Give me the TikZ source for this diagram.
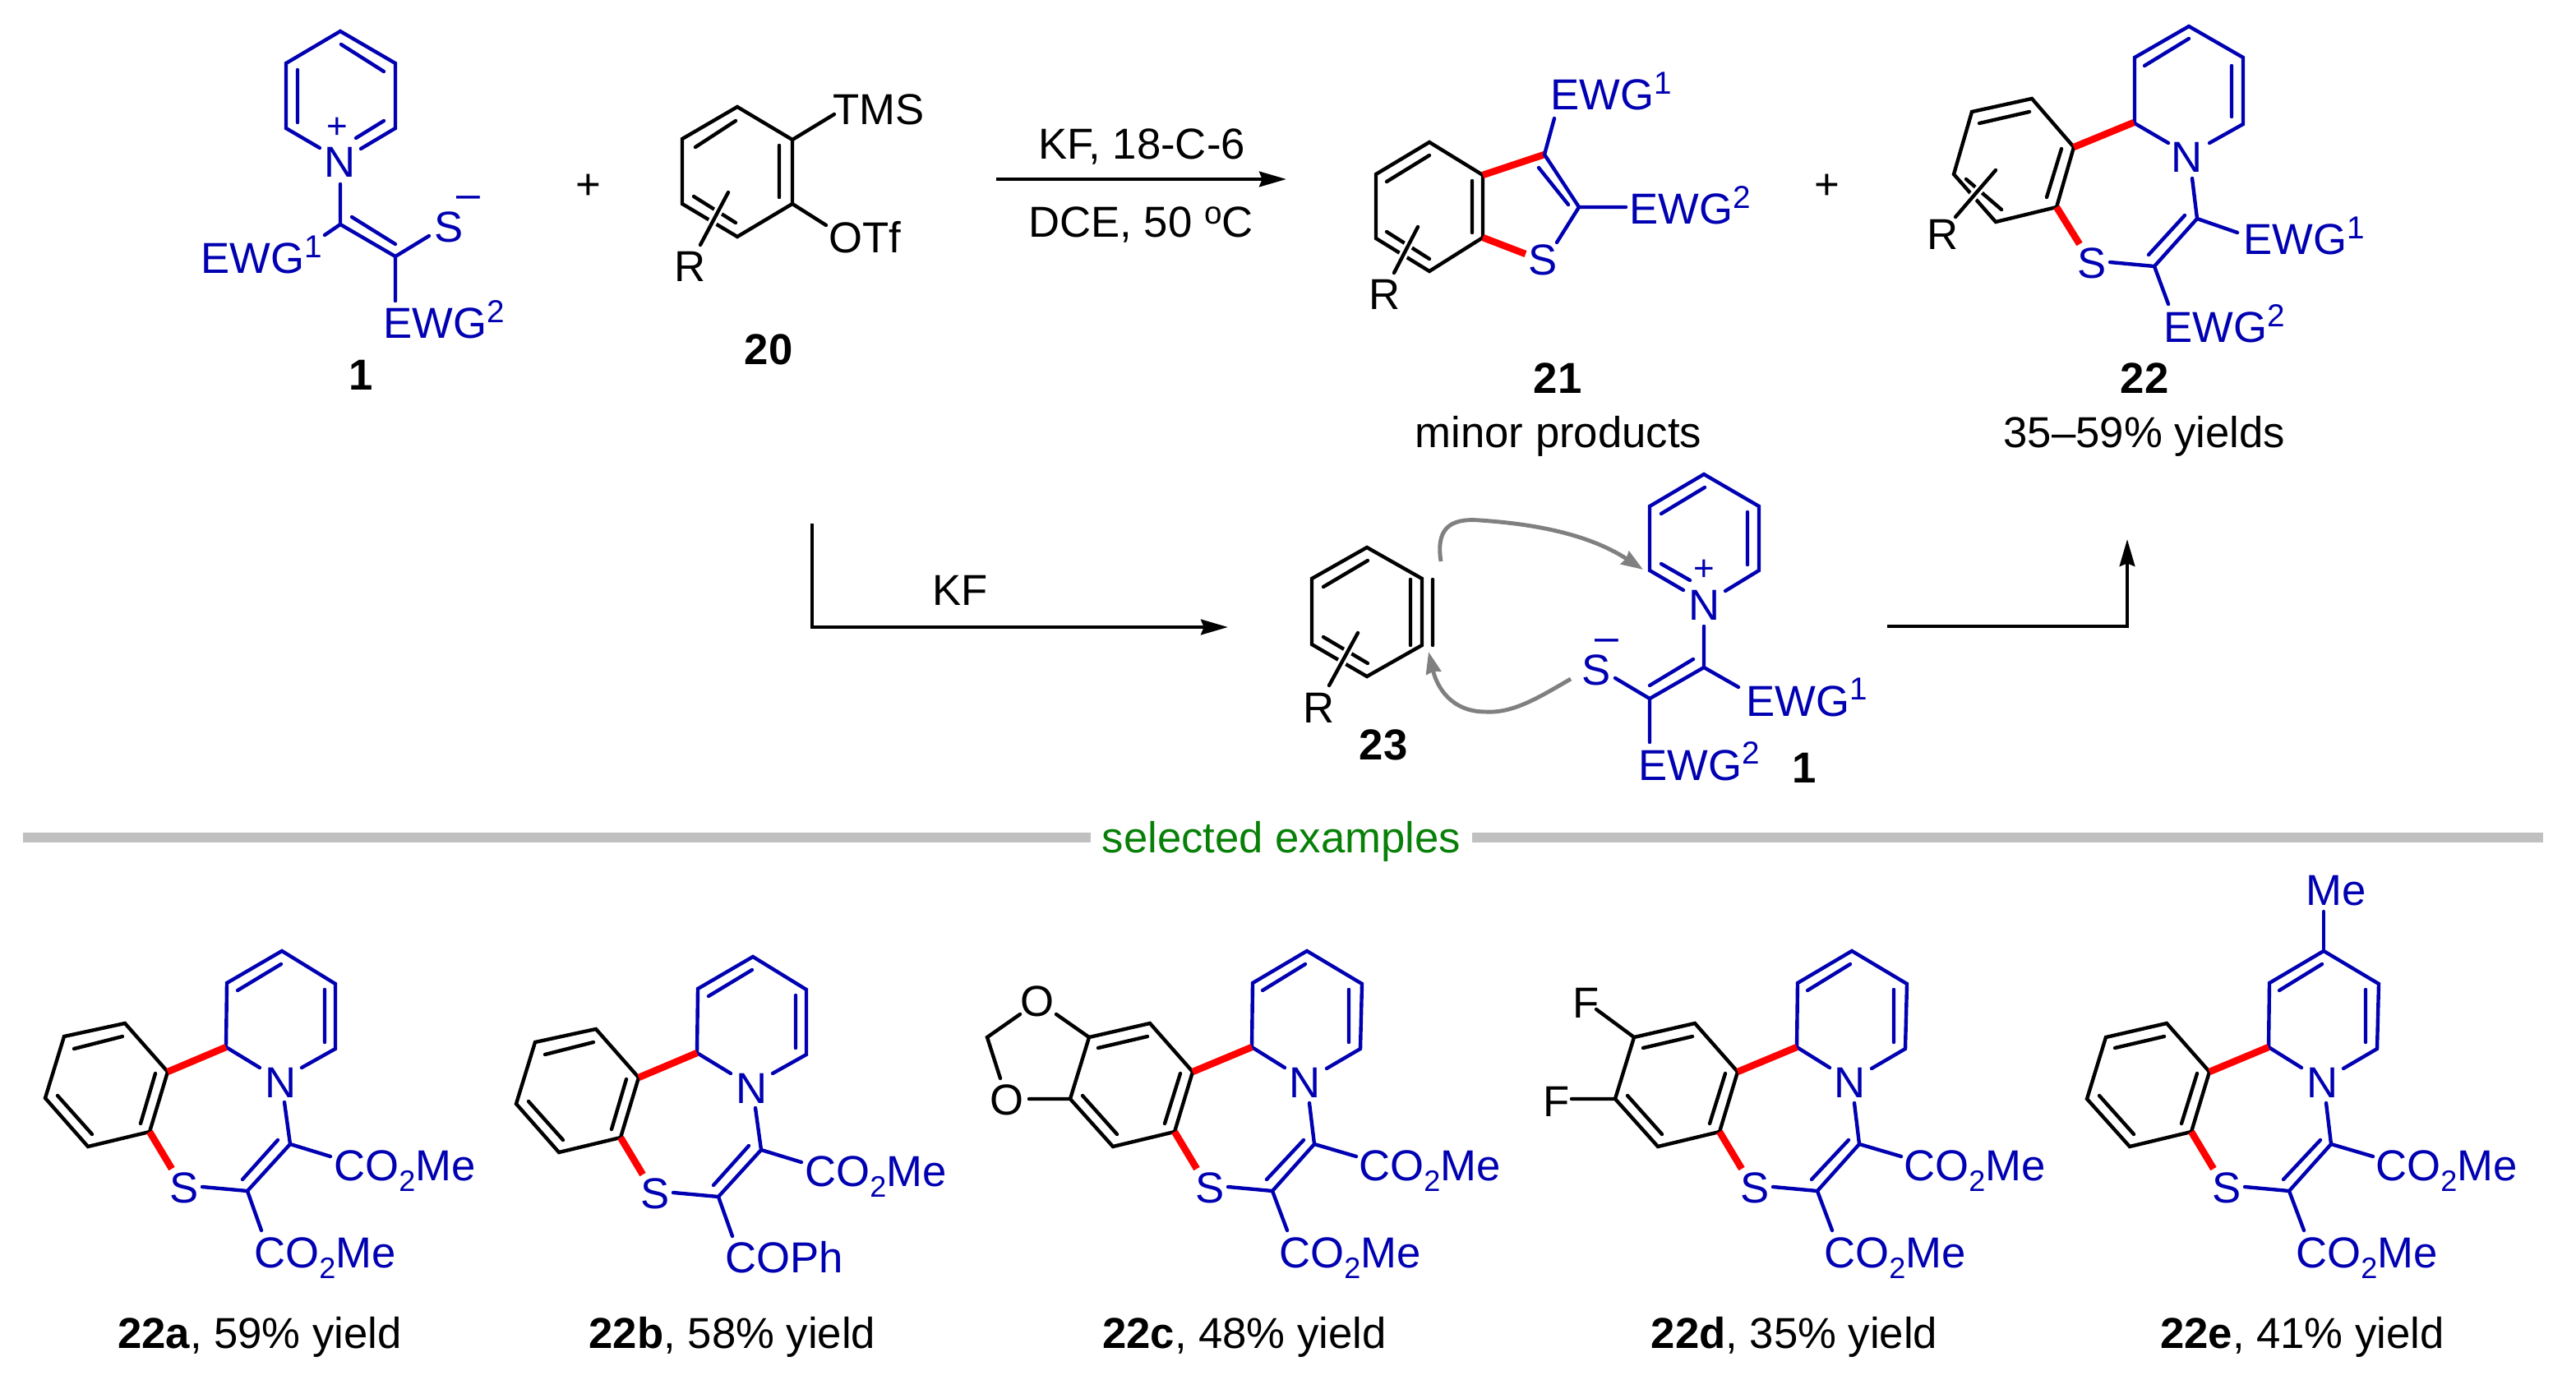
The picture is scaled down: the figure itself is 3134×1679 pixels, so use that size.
\documentclass[tikz,border=0pt]{standalone}
\usepackage{fontspec}
\setmainfont{Liberation Sans}
\usetikzlibrary{arrows.meta}
\definecolor{chemblue}{RGB}{0,0,178}
\definecolor{sepgray}{RGB}{192,192,192}
\definecolor{mechgray}{RGB}{128,128,128}
\definecolor{examplegreen}{RGB}{8,128,8}
\newcommand{\supr}[1]{\raisebox{11.2pt}{\fontsize{22}{22}\selectfont #1}}
\newcommand{\subr}[1]{\raisebox{-7.4pt}{\fontsize{20.5}{20.5}\selectfont #1}}
\newcommand{\ester}{CO\subr{2}Me}
\tikzset{
  bluebond/.style={draw=chemblue,line width=2.5pt,line cap=round,line join=miter},
  blackbond/.style={draw=black,line width=2.5pt,line cap=round,line join=miter},
  redbond/.style={draw=red,line width=4.8pt,line cap=butt},
  halobond/.style={blackbond,preaction={draw=white,line width=6pt,line cap=butt}},
  arrowline/.style={draw=black,line width=2.6pt,line join=miter,-{Stealth[length=18.7pt,width=10.5pt,inset=2pt]}},
  mecharrow/.style={draw=mechgray,line width=2.8pt,-{Stealth[length=15pt,width=10.5pt,inset=1pt]}},
  sepbar/.style={draw=sepgray,line width=6.8pt},
  lw/.style={inner sep=0pt,anchor=base west,xshift=-1.2pt,font=\fontsize{30}{30}\selectfont,text=black},
  lc/.style={inner sep=0pt,anchor=base,font=\fontsize{30}{30}\selectfont,text=black},
  blw/.style={lw,text=chemblue},
  blc/.style={lc,text=chemblue},
  chg/.style={inner sep=0pt,anchor=center,text=chemblue,font=\fontsize{25}{25}\selectfont},
  plain/.style={inner sep=0pt,anchor=center,text=black,font=\fontsize{30}{30}\selectfont},
}
% benzothiazepine core with the narrower benzene ring (22a, 22b)
\newcommand{\coreAB}{%
  \draw[bluebond] (316,1299)--(275,1274)--(276,1196)--(343,1157)--(408,1197)--(408,1276)--(367,1299);
  \draw[bluebond] (289,1205)--(342,1173) (395,1204)--(395,1268);
  \node[blc] (n) at (342,1335) {N};
  \draw[blackbond] (204,1304)--(152,1245)--(78,1261)--(55,1336)--(107,1395)--(182,1377)--cycle;
  \draw[blackbond] (90,1276)--(149,1261) (189,1306)--(171,1367) (70,1333)--(112,1380);
  \draw[redbond] (204,1304)--(275,1274) (182,1377)--(209,1422);
  \draw[bluebond] (346,1341)--(353,1392)--(301,1449)--(318,1497) (338,1387)--(295,1435) (353,1392)--(402,1407) (301,1449)--(246,1444);
  \node[blc] (s) at (224,1463) {S};
  \node[blw] (e) at (408,1436) {\ester};
}
% core with the wider benzene ring (22c, 22d, 22e)
\newcommand{\coreCDE}{%
  \draw[bluebond] (1563,1299)--(1523,1274)--(1524,1196)--(1590,1157)--(1657,1197)--(1655,1276)--(1614,1300);
  \draw[bluebond] (1536,1205)--(1588,1173) (1641,1204)--(1641,1268);
  \node[blc] (n) at (1588,1335) {N};
  \draw[blackbond] (1451,1304)--(1399,1245)--(1325,1262)--(1302,1337)--(1354,1395)--(1429,1377)--cycle;
  \draw[blackbond] (1336,1275)--(1396,1261) (1436,1306)--(1417,1367) (1317,1333)--(1359,1380);
  \draw[redbond] (1451,1304)--(1523,1274) (1429,1377)--(1456,1422);
  \draw[bluebond] (1593,1342)--(1599,1392)--(1548,1449)--(1566,1497) (1586,1387)--(1541,1435) (1599,1392)--(1650,1407) (1548,1449)--(1494,1444);
  \node[blc] (s) at (1472,1463) {S};
  \node[blw] (e) at (1655,1436) {\ester};
  \node[blw] (f) at (1558,1542) {\ester};
}
\begin{document}
\begin{tikzpicture}[x=0.02cm,y=-0.02cm]
\useasboundingbox (0,0) rectangle (3134,1679);
% ---------- compound 1 (top)
\draw[bluebond] (389,180)--(348,156)--(348,77)--(414,38)--(481,77)--(481,156)--(439,181);
\draw[bluebond] (362,85)--(362,149) (415,54)--(467,87) (433,168)--(467,147);
\node[blc] (topN) at (414,216) {N};
\node[chg] (topplus) at (410,156) {+};
\draw[bluebond] (414,224)--(414,273)--(481,312)--(481,366) (428,264)--(481,297) (414,273)--(395,286) (481,312)--(522,287);
\node[blc] (topS) at (546,295) {S};
\node[chg,font=\fontsize{29.5}{30}\selectfont] (topminus) at (570,246) {–};
\node[blw] (topE1) at (246,333) {EWG\supr{1}};
\node[blw] (topE2) at (468,412) {EWG\supr{2}};
\node[lc] (lab1) at (439,475) {\textbf{1}};
\node[plain] (plus1) at (716,227) {+};
% ---------- compound 20
\draw[blackbond] (897,130)--(964,170)--(964,248)--(897,288)--(830,248)--(830,169)--cycle;
\draw[blackbond] (846,179)--(895,147) (948,177)--(948,240) (844,239)--(895,271);
\draw[halobond] (886,234)--(852,298);
\draw[blackbond] (964,170)--(1015,139) (964,248)--(1005,274);
\node[lw] (tms) at (1015,152) {TMS};
\node[lw] (otf) at (1010,308) {OTf};
\node[lw] (r20) at (822,343) {R};
\node[lc] (lab20) at (935,443) {\textbf{20}};
% ---------- top arrow
\coordinate (a1s) at (1212,218);
\coordinate (a1e) at (1565,218);
\draw[arrowline] (a1s)--(a1e);
\node[lc] (cond1) at (1389,194) {KF, 18-C-6};
\node[lc] (cond2) at (1388,289) {DCE, 50 \raisebox{9.6pt}{\fontsize{22}{22}\selectfont o}C};
% ---------- compound 21
\draw[blackbond] (1739,173)--(1804,213)--(1804,289)--(1739,330)--(1674,290)--(1674,212)--cycle;
\draw[blackbond] (1687,221)--(1739,189) (1791,220)--(1791,283) (1687,282)--(1739,315);
\draw[halobond] (1725,276)--(1696,332);
\draw[redbond] (1804,213)--(1879,188) (1804,289)--(1856,309);
\draw[bluebond] (1879,188)--(1921,252)--(1894,295) (1872,204)--(1908,249) (1879,188)--(1891,144) (1921,252)--(1978,252);
\node[blc] (s21) at (1877,335) {S};
\node[blw] (e121) at (1888,134) {EWG\supr{1}};
\node[blw] (e221) at (1984,273) {EWG\supr{2}};
\node[lw] (r21) at (1667,377) {R};
\node[lc] (lab21) at (1895,479) {\textbf{21}};
\node[lc] (minor) at (1896,544) {minor products};
\node[plain] (plus2) at (2223,227) {+};
% ---------- compound 22
\draw[bluebond] (2638,174)--(2597,150)--(2597,70)--(2663,32)--(2729,70)--(2729,151)--(2688,174);
\draw[bluebond] (2609,80)--(2663,47) (2715,80)--(2715,142);
\node[blc] (n22) at (2661,210) {N};
\draw[blackbond] (2523,179)--(2472,120)--(2399,136)--(2377,212)--(2428,270)--(2502,252)--cycle;
\draw[blackbond] (2408,150)--(2469,136) (2508,181)--(2490,240) (2392,218)--(2435,255);
\draw[halobond] (2428,207)--(2379,264);
\draw[redbond] (2523,179)--(2596,149) (2502,252)--(2530,297);
\draw[bluebond] (2667,217)--(2673,266)--(2621,324)--(2638,370) (2658,262)--(2614,310) (2673,266)--(2722,283) (2621,324)--(2567,319);
\node[blc] (s22) at (2545,339) {S};
\node[blw] (e122) at (2731,310) {EWG\supr{1}};
\node[blw] (e222) at (2634,417) {EWG\supr{2}};
\node[lw] (r22) at (2346,304) {R};
\node[lc] (lab22) at (2609,479) {\textbf{22}};
\node[lc] (yields) at (2609,544) {35–59\% yields};
% ---------- mechanism row
\coordinate (a2s) at (988,637);
\coordinate (a2c) at (988,763);
\coordinate (a2e) at (1494,763);
\draw[arrowline] (a2s)--(a2c)--(a2e);
\node[lw] (kf) at (1136,736) {KF};
\draw[blackbond] (1663,666)--(1730,704)--(1730,785)--(1663,823)--(1596,784)--(1596,704)--cycle;
\draw[blackbond] (1610,714)--(1664,682) (1716,705)--(1716,785) (1743,705)--(1743,785) (1610,775)--(1664,807);
\draw[halobond] (1652,770)--(1617,834);
\node[lw] (r23) at (1587,879) {R};
\node[lc] (lab23) at (1683,924) {\textbf{23}};
\draw[bluebond] (2048,718)--(2007,694)--(2007,616)--(2073,577)--(2140,616)--(2140,694)--(2099,719);
\draw[bluebond] (2021,625)--(2074,593) (2126,623)--(2126,687) (2021,686)--(2056,706);
\node[blc] (mN) at (2074,754) {N};
\node[chg] (mplus) at (2073,694) {+};
\draw[bluebond] (2073,762)--(2073,812)--(2007,850)--(2007,903) (2060,802)--(2007,834) (2073,812)--(2115,836) (2007,850)--(1965,825);
\node[blc] (mS) at (1942,833) {S};
\node[chg,font=\fontsize{29.5}{30}\selectfont] (mminus) at (1955,785) {–};
\node[blw] (mE1) at (2126,871) {EWG\supr{1}};
\node[blw] (mE2) at (1995,949) {EWG\supr{2}};
\node[lc] (lab1b) at (2195,952) {\textbf{1}};
\coordinate (c1s) at (1753,683);
\coordinate (c1m) at (1800,633);
\coordinate (c1e) at (1999,693);
\draw[mecharrow] (c1s) .. controls (1747,645) and (1762,630) .. (c1m) .. controls (1860,637) and (1930,648) .. (c1e);
\coordinate (c2s) at (1911,826);
\coordinate (c2m) at (1807,866);
\coordinate (c2e) at (1738,793);
\draw[mecharrow] (c2s) .. controls (1870,850) and (1840,868) .. (c2m) .. controls (1765,866) and (1748,835) .. (c2e);
\coordinate (a3s) at (2296,762);
\coordinate (a3c) at (2588,762);
\coordinate (a3e) at (2588,656);
\draw[arrowline] (a3s)--(a3c)--(a3e);
% ---------- separator
\coordinate (sep1) at (28,1019);
\coordinate (sep2) at (1327,1019);
\coordinate (sep3) at (1791,1019);
\coordinate (sep4) at (3094,1019);
\draw[sepbar] (sep1)--(sep2) (sep3)--(sep4);
\node[lc,text=examplegreen] (selected) at (1559,1037) {selected examples};
% ---------- examples
\begin{scope}[name prefix=a-]
  \coreAB
  \node[blw] (f) at (311,1542) {\ester};
\end{scope}
\node[lc] (laba) at (316,1640) {\textbf{22a}, 59\% yield};
\begin{scope}[shift={(573,7)},name prefix=b-]
  \coreAB
  \node[blw] (f) at (311,1541) {COPh};
\end{scope}
\node[lc] (labb) at (891,1640) {\textbf{22b}, 58\% yield};
\begin{scope}[name prefix=c-]
  \coreCDE
  \draw[blackbond] (1325,1262)--(1285,1234) (1241,1234)--(1201,1262)--(1217,1312) (1302,1337)--(1252,1337);
  \node[lc] (o1) at (1262,1236) {O};
  \node[lc] (o2) at (1225,1356) {O};
\end{scope}
\node[lc] (labc) at (1514,1640) {\textbf{22c}, 48\% yield};
\begin{scope}[shift={(663,0)},name prefix=d-]
  \coreCDE
  \draw[blackbond] (1325,1262)--(1279,1228) (1302,1337)--(1249,1337);
\end{scope}
\node[lw] (f1) at (1915,1238) {F};
\node[lw] (f2) at (1879,1358) {F};
\node[lc] (labd) at (2183,1640) {\textbf{22d}, 35\% yield};
\begin{scope}[shift={(1237,0)},name prefix=e-]
  \coreCDE
  \draw[bluebond] (1590,1109)--(1590,1157);
\end{scope}
\node[blw] (me) at (2807,1101) {Me};
\node[lc] (labe) at (2801,1640) {\textbf{22e}, 41\% yield};
\end{tikzpicture}
\end{document}
